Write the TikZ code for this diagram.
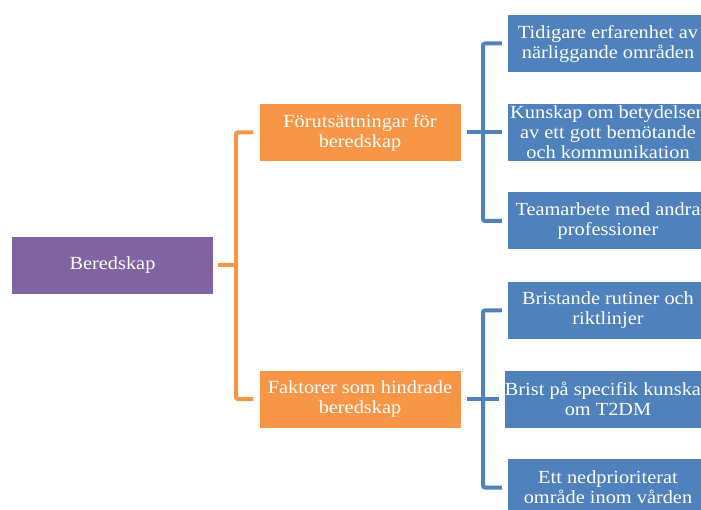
\documentclass[tikz,border=0pt]{standalone}
\usepackage{fontspec}
\setmainfont[FakeStretch=1.1]{Liberation Serif}
\definecolor{purp}{HTML}{8064A2}
\definecolor{oran}{HTML}{F79646}
\definecolor{blu}{HTML}{4F81BD}
\begin{document}
\begin{tikzpicture}[x=1pt,y=1pt,
  box/.style={rectangle, minimum width=201pt, minimum height=57pt, inner sep=0pt,
    text=white, align=center, font=\fontsize{18.5}{20}\selectfont},
  rootbox/.style={box, fill=purp},
  obox/.style={box, fill=oran},
  bbox/.style={box, fill=blu, minimum width=200pt},
  oline/.style={draw=oran, line width=4pt, rounded corners=2pt},
  bline/.style={draw=blu, line width=4pt, rounded corners=2pt}]
\useasboundingbox (0,0) rectangle (701,509);
\clip (0,0) rectangle (701,509);
\node[rootbox] (root) at (112.5,243.5) {Beredskap};
\node[obox] (a1) at (360,376.5) {Förutsättningar för\\beredskap};
\node[obox] (a2) at (360,110) {Faktorer som hindrade\\beredskap};
\node[bbox] (b1) at (608,465.5) {Tidigare erfarenhet av\\närliggande områden};
\node[bbox] (b2) at (608,376.5) {Kunskap om betydelsen\\av ett gott bemötande\\och kommunikation};
\node[bbox] (b3) at (608,288) {Teamarbete med andra\\professioner};
\node[bbox] (c1) at (608,198.5) {Bristande rutiner och\\riktlinjer};
\node[bbox] (c2) at (608,110) {Brist på specifik kunskap\\om T2DM};
\node[bbox] (c3) at (608,21.5) {Ett nedprioriterat\\område inom vården};
\coordinate (os) at (236,0);
\coordinate (bs) at (483,0);
% orange
\draw[oline] ([xshift=5pt]root.east) -- (os |- root);
\draw[oline] ([xshift=-6pt]a1.west) -- (os |- a1) -- (os |- a2) -- ([xshift=-6pt]a2.west);
% blue top
\draw[bline] ([xshift=6pt]a1.east) -- ([xshift=-6pt]b2.west);
\draw[bline] ([xshift=-6pt]b1.west) -- (bs |- b1) -- (bs |- b3) -- ([xshift=-6pt]b3.west);
% blue bottom
\draw[bline] ([xshift=6pt]a2.east) -- ([xshift=-6pt]c2.west);
\draw[bline] ([xshift=-6pt]c1.west) -- (bs |- c1) -- (bs |- c3) -- ([xshift=-6pt]c3.west);
\end{tikzpicture}
\end{document}
